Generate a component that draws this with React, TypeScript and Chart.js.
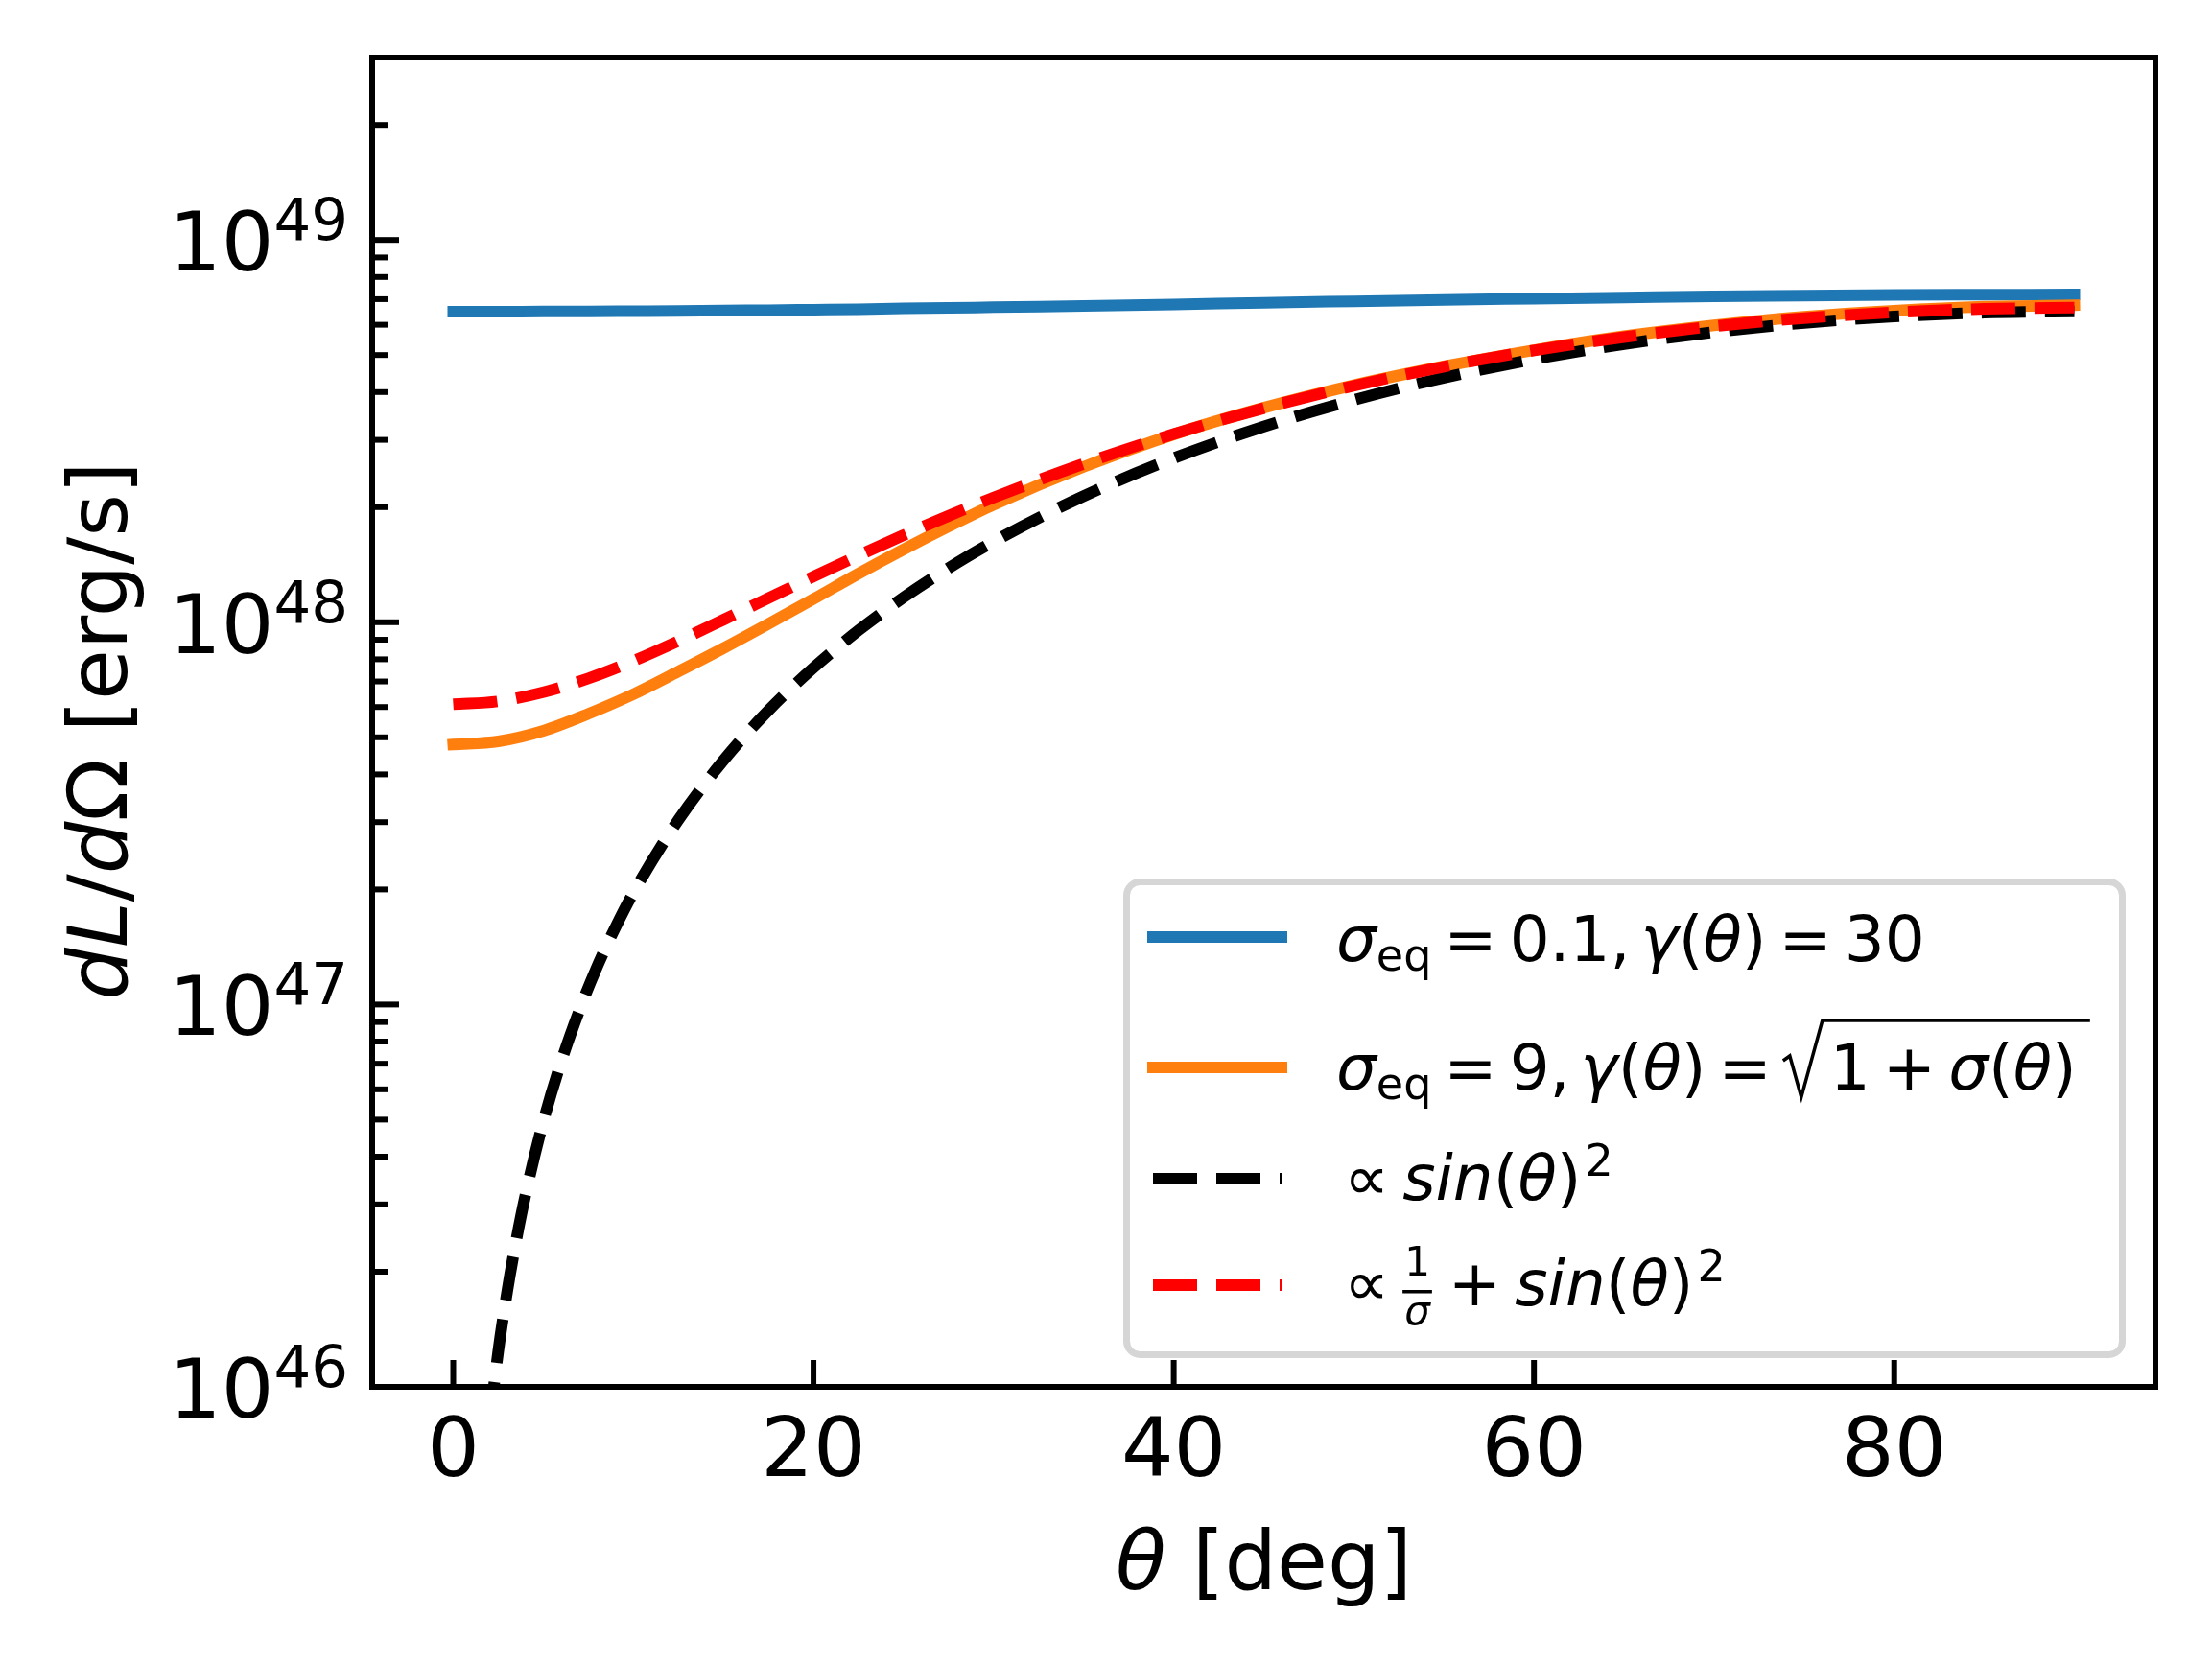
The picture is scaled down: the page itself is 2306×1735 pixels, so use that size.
import { useEffect, useRef } from "react"
import { Chart, registerables } from "chart.js"

Chart.register(...registerables)

// theta grid (deg) shared by the three curves that start at 0
const thetaDeg = [0, 2.5, 5, 7.5, 10, 12.5, 15, 17.5, 20, 22.5, 25, 27.5, 30, 35, 40, 45, 50, 55, 60, 65, 70, 75, 80, 85, 90]

// sigma_eq = 0.1, gamma = 30
const blueLum = [
  6.49e48, 6.49e48, 6.5e48, 6.5e48, 6.51e48, 6.52e48, 6.54e48, 6.55e48, 6.57e48, 6.59e48, 6.62e48, 6.64e48, 6.67e48,
  6.72e48, 6.78e48, 6.85e48, 6.91e48, 6.97e48, 7.02e48, 7.07e48, 7.12e48, 7.15e48, 7.18e48, 7.19e48, 7.2e48,
]

// sigma_eq = 9, gamma = sqrt(1 + sigma)
const orangeLum = [
  4.79e47, 4.88e47, 5.2e47, 5.76e47, 6.48e47, 7.43e47, 8.55e47, 9.9e47, 1.15e48, 1.34e48, 1.55e48, 1.78e48, 2.03e48,
  2.55e48, 3.1e48, 3.64e48, 4.17e48, 4.67e48, 5.15e48, 5.6e48, 5.98e48, 6.3e48, 6.53e48, 6.69e48, 6.75e48,
]

// 1/sigma + sin^2 reference
const redLum = [
  6.1e47, 6.21e47, 6.56e47, 7.13e47, 7.92e47, 8.93e47, 1.015e48, 1.156e48, 1.317e48, 1.494e48, 1.689e48, 1.898e48,
  2.12e48, 2.597e48, 3.106e48, 3.63e48, 4.154e48, 4.663e48, 5.14e48, 5.571e48, 5.943e48, 6.245e48, 6.468e48,
  6.604e48, 6.65e48,
]

// sin^2 reference, starts below the axis floor
const thetaSin = [2, 2.5, 3, 3.5, 4, 5, 6, 7, 8, 9, 10, 12.5, 15, 17.5, 20, 22.5, 25, 27.5, 30, 35, 40, 45, 50, 55, 60, 65, 70, 75, 80, 85, 90]
const blackLum = [
  7.9e45, 1.24e46, 1.78e46, 2.42e46, 3.16e46, 4.94e46, 7.1e46, 9.65e46, 1.26e47, 1.59e47, 1.96e47, 3.04e47, 4.35e47,
  5.88e47, 7.6e47, 9.52e47, 1.161e48, 1.386e48, 1.625e48, 2.138e48, 2.686e48, 3.25e48, 3.814e48, 4.362e48, 4.875e48,
  5.339e48, 5.74e48, 6.065e48, 6.304e48, 6.451e48, 6.5e48,
]

const xTicks = [0, 20, 40, 60, 80]
const yExponents = [46, 47, 48, 49]

const FONT = '"DejaVu Sans"'
const TICK_SIZE = 86
const LEG = 66
const SUB = 46

type Run = { t: string; it?: boolean; size?: number; dy?: number; gap?: number }
type Seg = Run | { sqrt: Run[]; gap?: number } | { frac: [Run, Run]; gap?: number }

const font = (size: number, it?: boolean) => `${it ? "italic " : ""}${size}px ${FONT}`

const legendRows: Seg[][] = [
  [
    { t: "σ", it: true },
    { t: "eq", size: SUB, dy: 10 },
    { t: "=", gap: 13 },
    { t: "0.1,", gap: 13 },
    { t: "γ", it: true, gap: 11 },
    { t: "(" },
    { t: "θ", it: true },
    { t: ")" },
    { t: "=", gap: 13 },
    { t: "30", gap: 13 },
  ],
  [
    { t: "σ", it: true },
    { t: "eq", size: SUB, dy: 10 },
    { t: "=", gap: 13 },
    { t: "9,", gap: 13 },
    { t: "γ", it: true, gap: 11 },
    { t: "(" },
    { t: "θ", it: true },
    { t: ")" },
    { t: "=", gap: 13 },
    { gap: 12, sqrt: [{ t: "1" }, { t: "+", gap: 13 }, { t: "σ", it: true, gap: 13 }, { t: "(" }, { t: "θ", it: true }, { t: ")" }] },
  ],
  [
    { t: "∝", gap: 8 },
    { t: "sin", it: true, gap: 14 },
    { t: "(" },
    { t: "θ", it: true },
    { t: ")" },
    { t: "2", size: SUB, dy: -25, gap: 4 },
  ],
  [
    { t: "∝", gap: 8 },
    { frac: [{ t: "1", size: 42 }, { t: "σ", it: true, size: 42 }], gap: 14 },
    { t: "+", gap: 17 },
    { t: "sin", it: true, gap: 14 },
    { t: "(" },
    { t: "θ", it: true },
    { t: ")" },
    { t: "2", size: SUB, dy: -25, gap: 4 },
  ],
]

function drawRuns(ctx: CanvasRenderingContext2D, runs: Run[], x: number, y: number, base: number) {
  for (const r of runs) {
    x += r.gap ?? 0
    ctx.font = font(r.size ?? base, r.it)
    ctx.fillText(r.t, x, y + (r.dy ?? 0))
    x += ctx.measureText(r.t).width
  }
  return x
}

function runsWidth(ctx: CanvasRenderingContext2D, runs: Run[], base: number) {
  let w = 0
  for (const r of runs) {
    ctx.font = font(r.size ?? base, r.it)
    w += (r.gap ?? 0) + ctx.measureText(r.t).width
  }
  return w
}

function drawSegs(ctx: CanvasRenderingContext2D, segs: Seg[], x: number, y: number) {
  for (const s of segs) {
    if ("sqrt" in s) {
      x += s.gap ?? 0
      const rw = 41
      ctx.lineWidth = 3.5
      ctx.beginPath()
      ctx.moveTo(x, y - 30)
      ctx.lineTo(x + 7, y - 35)
      ctx.lineTo(x + 19, y + 8)
      ctx.lineTo(x + rw, y - 72)
      const end = drawRuns(ctx, s.sqrt, x + rw + 8, y, LEG)
      ctx.lineTo(end + 14, y - 72)
      ctx.stroke()
      x = end + 14
    } else if ("frac" in s) {
      x += s.gap ?? 0
      const [num, den] = s.frac
      const wn = runsWidth(ctx, [num], LEG)
      const wd = runsWidth(ctx, [den], LEG)
      const w = Math.max(wn, wd) + 4
      ctx.fillRect(x, y - 16, w, 3.5)
      drawRuns(ctx, [num], x + (w - wn) / 2, y - 31, LEG)
      drawRuns(ctx, [den], x + (w - wd) / 2, y + 20, LEG)
      x += w
    } else {
      x = drawRuns(ctx, [s], x, y, LEG)
    }
  }
  return x
}

const mplFrame = {
  id: "mplFrame",
  afterDatasetsDraw(chart: Chart) {
    const { ctx, chartArea: a } = chart
    const xs = chart.scales.x
    const ys = chart.scales.y
    ctx.save()
    ctx.strokeStyle = "#000"
    ctx.fillStyle = "#000"
    ctx.lineWidth = 6
    ctx.lineCap = "butt"
    const seg = (x1: number, y1: number, x2: number, y2: number) => {
      ctx.beginPath()
      ctx.moveTo(x1, y1)
      ctx.lineTo(x2, y2)
      ctx.stroke()
    }
    // inward ticks
    xTicks.forEach((v) => {
      const px = xs.getPixelForValue(v)
      seg(px, a.bottom, px, a.bottom - 28)
    })
    yExponents.forEach((e) => {
      const py = ys.getPixelForValue(Math.pow(10, e))
      seg(a.left, py, a.left + 28, py)
      for (let k = 2; k <= 9; k++) {
        const v = k * Math.pow(10, e)
        if (v >= (ys.max as number)) continue
        const pm = ys.getPixelForValue(v)
        seg(a.left, pm, a.left + 16, pm)
      }
    })
    ctx.lineJoin = "miter"
    ctx.strokeRect(a.left, a.top, a.right - a.left, a.bottom - a.top)

    // tick labels
    ctx.textBaseline = "alphabetic"
    ctx.textAlign = "center"
    ctx.font = font(TICK_SIZE)
    xTicks.forEach((v) => {
      ctx.fillText(String(v), xs.getPixelForValue(v), a.bottom + 93)
    })
    yExponents.forEach((e) => {
      const py = ys.getPixelForValue(Math.pow(10, e))
      ctx.textAlign = "right"
      ctx.font = font(61)
      const supX = a.left - 25
      ctx.fillText(String(e), supX, py)
      const sw = ctx.measureText(String(e)).width
      ctx.font = font(TICK_SIZE)
      ctx.fillText("10", supX - sw, py + 32)
    })

    // axis titles
    ctx.textAlign = "left"
    const xTitle: Run[] = [{ t: "θ", it: true }, { t: " [deg]" }]
    const xw = runsWidth(ctx, xTitle, TICK_SIZE)
    drawRuns(ctx, xTitle, (a.left + a.right) / 2 - xw / 2, 1657, TICK_SIZE)

    const yTitle: Run[] = [{ t: "d", it: true }, { t: "L", it: true }, { t: "/" }, { t: "d", it: true }, { t: "Ω" }, { t: " [erg/s]" }]
    const yw = runsWidth(ctx, yTitle, TICK_SIZE)
    ctx.save()
    ctx.translate(132, (a.top + a.bottom) / 2 + 9)
    ctx.rotate(-Math.PI / 2)
    drawRuns(ctx, yTitle, -yw / 2, 0, TICK_SIZE)
    ctx.restore()
    ctx.restore()
  },
  afterDraw(chart: Chart) {
    const { ctx, chartArea: a } = chart
    const w = 1045
    const h = 500
    const left = a.right - 31 - w
    const top = a.bottom - 30 - h
    ctx.save()
    ctx.beginPath()
    ctx.roundRect(left + 3.5, top + 3.5, w - 7, h - 7, 14)
    ctx.fillStyle = "rgba(255,255,255,0.8)"
    ctx.fill()
    ctx.lineWidth = 7
    ctx.strokeStyle = "#d6d6d6"
    ctx.stroke()

    const handleY = [61, 197, 313, 424]
    const baseY = [86, 220, 335, 445]
    chart.data.datasets.forEach((ds: any, i: number) => {
      ctx.save()
      ctx.strokeStyle = ds.borderColor
      ctx.lineWidth = ds.borderWidth
      ctx.setLineDash(ds.borderDash ?? [])
      ctx.lineCap = ds.borderDash ? "butt" : "square"
      ctx.beginPath()
      ctx.moveTo(left + 31, top + handleY[i])
      ctx.lineTo(left + 165, top + handleY[i])
      ctx.stroke()
      ctx.restore()
      ctx.fillStyle = "#000"
      ctx.strokeStyle = "#000"
      ctx.textAlign = "left"
      ctx.textBaseline = "alphabetic"
      drawSegs(ctx, legendRows[i], left + 222, top + baseY[i])
    })
    ctx.restore()
  },
}

export default function App() {
  const canvasRef = useRef<HTMLCanvasElement>(null)
  const chartRef = useRef<Chart | null>(null)

  useEffect(() => {
    if (!canvasRef.current) return
    if (chartRef.current) chartRef.current.destroy()

    const pts = (xs: number[], ys: number[]) => xs.map((x, i) => ({ x, y: ys[i] }))

    chartRef.current = new Chart(canvasRef.current, {
      type: "line",
      data: {
        datasets: [
          {
            label: "sigma_eq = 0.1, gamma = 30",
            data: pts(thetaDeg, blueLum),
            borderColor: "#1f77b4",
            borderWidth: 12,
            borderCapStyle: "square",
            order: 3,
          },
          {
            label: "sigma_eq = 9, gamma = sqrt(1+sigma)",
            data: pts(thetaDeg, orangeLum),
            borderColor: "#ff7f0e",
            borderWidth: 12,
            borderCapStyle: "square",
            order: 2,
          },
          {
            label: "sin^2",
            data: pts(thetaSin, blackLum),
            borderColor: "#000000",
            borderWidth: 12,
            borderDash: [46, 20],
            borderCapStyle: "butt",
            order: 1,
          },
          {
            label: "1/sigma + sin^2",
            data: pts(thetaDeg, redLum),
            borderColor: "#ff0000",
            borderWidth: 12,
            borderDash: [46, 20],
            borderCapStyle: "butt",
            order: 0,
          },
        ] as any,
      },
      options: {
        animation: false,
        responsive: false,
        devicePixelRatio: 1,
        layout: { padding: { left: 388, top: 60, right: 59, bottom: 289 } },
        elements: {
          point: { radius: 0 },
          line: { cubicInterpolationMode: "monotone", fill: false },
        },
        datasets: { line: { clip: 0 } as any },
        scales: {
          x: { type: "linear", min: -4.5, max: 94.5, display: false },
          y: { type: "logarithmic", min: 1e46, max: 3e49, display: false },
        },
        plugins: {
          legend: { display: false },
          tooltip: { enabled: false },
        },
      },
      plugins: [mplFrame],
    })

    const c = chartRef.current
    document.fonts?.ready.then(() => c.draw())

    return () => {
      if (chartRef.current) {
        chartRef.current.destroy()
        chartRef.current = null
      }
    }
  }, [])

  return (
    <div style={{ position: "absolute", left: 0, top: 0, width: 2306, height: 1735, background: "#fff" }}>
      <canvas ref={canvasRef} width={2306} height={1735} style={{ display: "block" }} />
    </div>
  )
}
